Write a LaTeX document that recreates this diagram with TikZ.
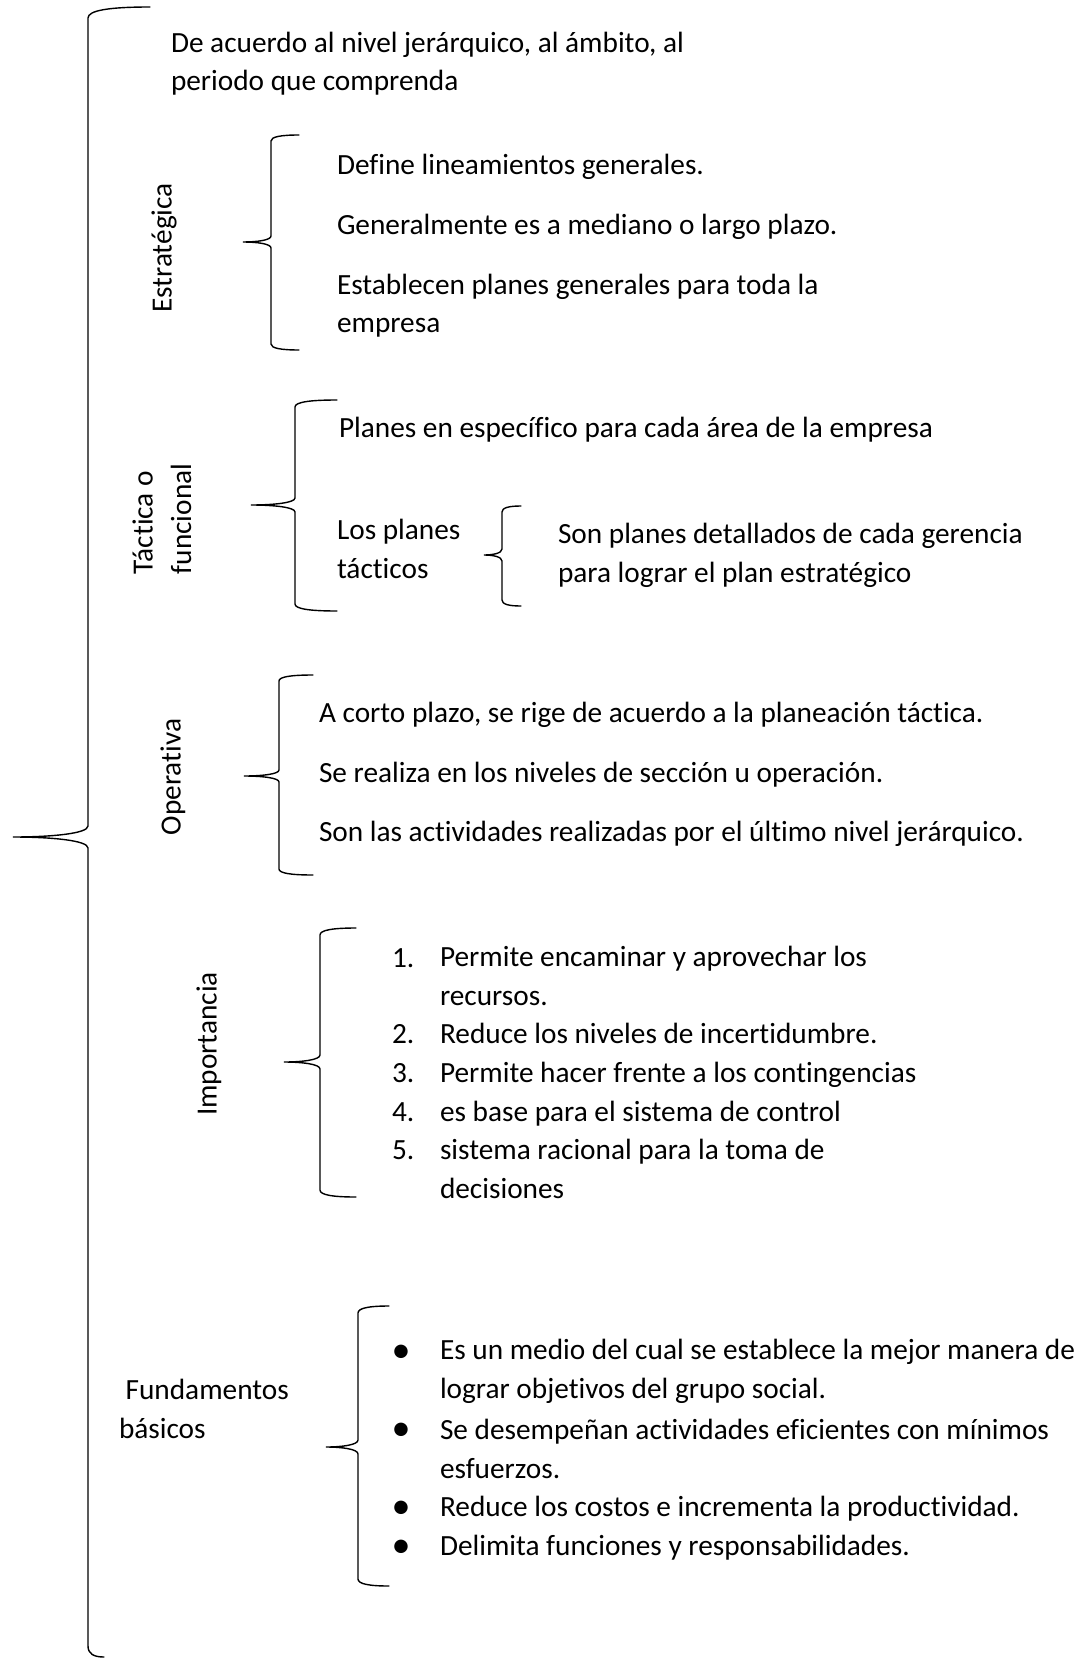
\documentclass[tikz,border=0pt]{standalone}
\usepackage{fontspec}
\setmainfont{Carlito}[Ligatures={NoCommon}]
\usetikzlibrary{positioning}

% word-like left brace: tip x, tip y, spine x, top y, bottom y, top arm x, bottom arm x, bend
\newcommand{\wbrace}[8]{%
  \draw[bracestroke] (#6,#4) .. controls ({#3+0.35*(#6-#3)},#4) and (#3,{#4+0.3*#8}) .. (#3,{#4+#8})
    -- (#3,{#2-#8}) .. controls (#3,{#2-0.3*#8}) and ({#3-0.5*(#3-#1)},#2) .. (#1,#2)
    .. controls ({#3-0.5*(#3-#1)},#2) and (#3,{#2+0.3*#8}) .. (#3,{#2+#8})
    -- (#3,{#5-#8}) .. controls (#3,{#5-0.3*#8}) and ({#3+0.35*(#7-#3)},#5) .. (#7,#5);
}

\begin{document}
\begin{tikzpicture}[x=1pt,y=-1pt,
    every node/.style={inner sep=0pt,outer sep=0pt,font=\fontsize{29.3}{38.5}\selectfont},
    txt/.style={anchor=base west,align=left},
    sidelabel/.style={rotate=90,align=left},
    bracestroke/.style={line width=1.4pt,line cap=round}]

  \useasboundingbox (0,0) rectangle (1082,1661);

  % outer brace (two-line texts sit on their last baseline)
  \wbrace{13}{837}{88}{7}{1657}{150}{104}{11}
  \node[txt] (head) at (171,91) {De acuerdo al nivel jerárquico, al ámbito, al\\periodo que comprenda};

  % estrategica
  \node[sidelabel] (estr) at (164,248) {Estratégica};
  \wbrace{243}{242}{271}{135}{350}{299}{299}{6}
  \node[txt] (estr1) at (337,175) {Define lineamientos generales.};
  \node[txt] (estr2) at (337,235) {Generalmente es a mediano o largo plazo.};
  \node[txt] (estr3) at (337,333) {Establecen planes generales para toda la\\empresa};

  % tactica
  \node[sidelabel] (tact) at (162,519) {Táctica o\\funcional};
  \wbrace{251}{505}{295}{400}{611}{337}{337}{7}
  \node[txt] (tact1) at (339,437) {Planes en específico para cada área de la empresa};
  \node[txt] (tact2) at (337,578) {Los planes\\tácticos};
  \wbrace{484}{555}{502}{506}{606}{521}{521}{6}
  \node[txt] (tact3) at (558,582) {Son planes detallados de cada gerencia\\para lograr el plan estratégico};

  % operativa
  \node[sidelabel] (oper) at (173,777) {Operativa};
  \wbrace{244}{776}{279}{675}{875}{313}{313}{6}
  \node[txt] (oper1) at (319,722) {A corto plazo, se rige de acuerdo a la planeación táctica.};
  \node[txt] (oper2) at (319,782) {Se realiza en los niveles de sección u operación.};
  \node[txt] (oper3) at (319,841) {Son las actividades realizadas por el último nivel jerárquico.};

  % importancia
  \node[sidelabel] (impo) at (209,1044) {Importancia};
  \wbrace{284}{1062}{320}{928}{1197}{356}{356}{7}
  \foreach \num/\y in {1/967,2/1043,3/1082,4/1121,5/1159}
    \node[txt] (num\num) at (392,\y) {\num.};
  \node[txt] (impo1) at (440,1005) {Permite encaminar y aprovechar los\\recursos.};
  \node[txt] (impo2) at (440,1043) {Reduce los niveles de incertidumbre.};
  \node[txt] (impo3) at (440,1082) {Permite hacer frente a los contingencias};
  \node[txt] (impo4) at (440,1121) {es base para el sistema de control};
  \node[txt] (impo5) at (440,1198) {sistema racional para la toma de\\decisiones};

  % fundamentos
  \node[txt] (fund) at (119,1438) {\ Fundamentos\\básicos};
  \wbrace{326}{1447}{358}{1306}{1586}{389}{389}{7}
  \foreach \k/\y in {1/1360,2/1438,3/1516,4/1555}
    \node[anchor=base,font=\fontsize{38}{38}\selectfont] (dot\k) at (401,\y+2) {•};
  \node[txt] (fund1) at (440,1398) {Es un medio del cual se establece la mejor manera de\\lograr objetivos del grupo social.};
  \node[txt] (fund2) at (440,1478) {Se desempeñan actividades eficientes con mínimos\\esfuerzos.};
  \node[txt] (fund3) at (440,1516) {Reduce los costos e incrementa la productividad.};
  \node[txt] (fund4) at (440,1555) {Delimita funciones y responsabilidades.};
\end{tikzpicture}
\end{document}
